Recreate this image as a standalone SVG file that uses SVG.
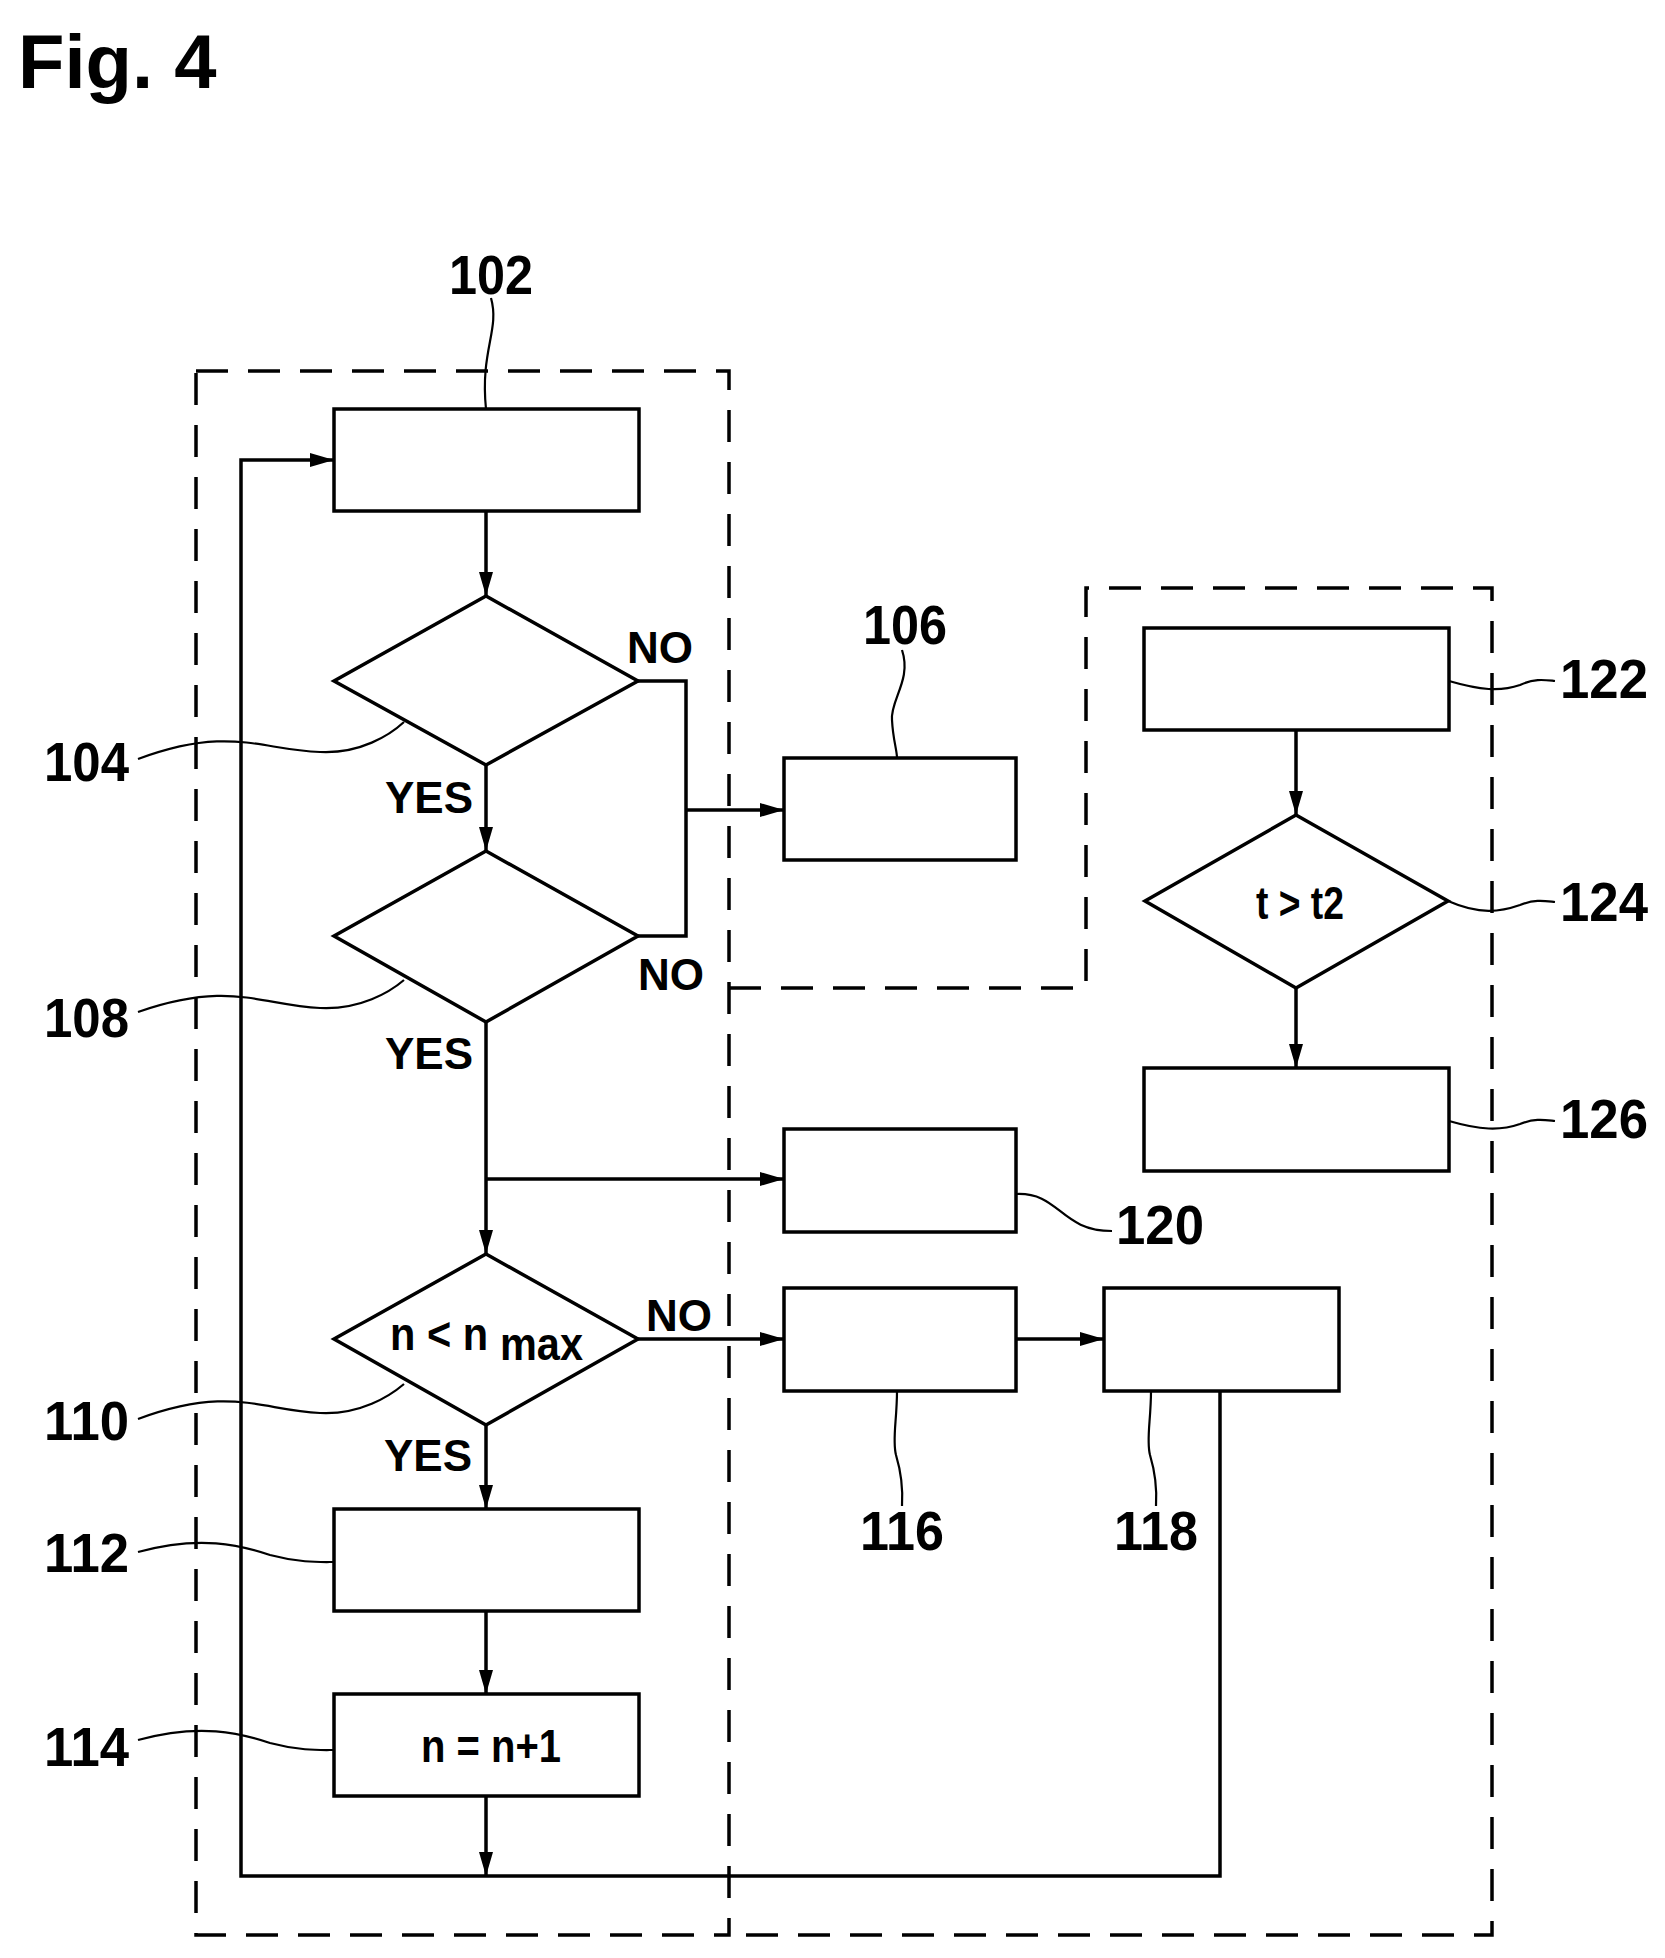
<svg xmlns="http://www.w3.org/2000/svg" width="1665" height="1958" viewBox="0 0 1665 1958">
<style>
.s{fill:none;stroke:#000;stroke-width:3.5}
.d{fill:none;stroke:#000;stroke-width:3.5;stroke-dasharray:32 20}
.l{fill:none;stroke:#000;stroke-width:2.2}
.t{font-family:"Liberation Sans",Arial,sans-serif;font-weight:bold;fill:#000}
.n{font-size:56px}
.y{font-size:44px;text-anchor:middle}
</style>
<defs>
<marker id="a" markerWidth="24" markerHeight="14" refX="24" refY="7" orient="auto" markerUnits="userSpaceOnUse">
<path d="M0,0 L24,7 L0,14 Z" fill="#000"/>
</marker>
</defs>
<rect width="1665" height="1958" fill="#fff"/>
<text class="t" x="18" y="88" font-size="76">Fig. 4</text>
<g id="frames">
<rect class="d" x="196" y="371" width="533" height="1564"/>
<path class="d" d="M729,988 H1086 V588 H1492 V1935 H729"/>
</g>
<g id="n102"><rect class="s" x="334" y="409" width="305" height="102"/>
<text class="t n" x="491" y="294" text-anchor="middle" textLength="84" lengthAdjust="spacingAndGlyphs">102</text>
<path class="l" d="M491,298 C500,330 480,350 486,409"/></g>
<g id="n104"><path class="s" d="M486,596 L638,681 L486,765 L334,681 Z"/>
<text class="t n" x="44" y="781" textLength="85" lengthAdjust="spacingAndGlyphs">104</text>
<path class="l" d="M138,759 C230,725 260,750 320,752 C360,754 390,735 404,722"/></g>
<g id="n106"><rect class="s" x="784" y="758" width="232" height="102"/>
<text class="t n" x="905" y="644" text-anchor="middle" textLength="84" lengthAdjust="spacingAndGlyphs">106</text>
<path class="l" d="M902,650 C912,680 890,700 892,720 C893,740 897,750 897,758"/></g>
<g id="n108"><path class="s" d="M486,851 L638,936 L486,1022 L334,936 Z"/>
<text class="t n" x="44" y="1037" textLength="85" lengthAdjust="spacingAndGlyphs">108</text>
<path class="l" d="M138,1012 C230,980 260,1005 320,1008 C360,1010 390,992 404,980"/></g>
<g id="n110"><path class="s" d="M486,1254 L638,1339 L486,1425 L334,1339 Z"/>
<text class="t" x="390" y="1350" font-size="46" textLength="98" lengthAdjust="spacingAndGlyphs">n &lt; n</text>
<text class="t" x="500" y="1360" font-size="46" textLength="83" lengthAdjust="spacingAndGlyphs">max</text>
<text class="t n" x="44" y="1440" textLength="85" lengthAdjust="spacingAndGlyphs">110</text>
<path class="l" d="M138,1419 C230,1385 260,1410 320,1413 C360,1415 390,1396 404,1384"/></g>
<g id="n112"><rect class="s" x="334" y="1509" width="305" height="102"/>
<text class="t n" x="44" y="1572" textLength="85" lengthAdjust="spacingAndGlyphs">112</text>
<path class="l" d="M138,1552 C200,1535 240,1545 270,1555 C300,1563 320,1562 334,1562"/></g>
<g id="n114"><rect class="s" x="334" y="1694" width="305" height="102"/>
<text class="t" x="491" y="1762" font-size="46" text-anchor="middle" textLength="140" lengthAdjust="spacingAndGlyphs">n = n+1</text>
<text class="t n" x="44" y="1766" textLength="85" lengthAdjust="spacingAndGlyphs">114</text>
<path class="l" d="M138,1740 C200,1723 240,1733 270,1743 C300,1751 320,1750 334,1750"/></g>
<g id="n116"><rect class="s" x="784" y="1288" width="232" height="103"/>
<text class="t n" x="902" y="1550" text-anchor="middle" textLength="84" lengthAdjust="spacingAndGlyphs">116</text>
<path class="l" d="M897,1391 C897,1420 892,1440 896,1455 C902,1475 903,1490 902,1506"/></g>
<g id="n118"><rect class="s" x="1104" y="1288" width="235" height="103"/>
<text class="t n" x="1156" y="1550" text-anchor="middle" textLength="84" lengthAdjust="spacingAndGlyphs">118</text>
<path class="l" d="M1151,1391 C1151,1420 1146,1440 1150,1455 C1156,1475 1157,1490 1156,1506"/></g>
<g id="n120"><rect class="s" x="784" y="1129" width="232" height="103"/>
<text class="t n" x="1116" y="1244" textLength="88" lengthAdjust="spacingAndGlyphs">120</text>
<path class="l" d="M1016,1194 C1060,1192 1060,1231 1112,1231"/></g>
<g id="n122"><rect class="s" x="1144" y="628" width="305" height="102"/>
<text class="t n" x="1560" y="698" textLength="88" lengthAdjust="spacingAndGlyphs">122</text>
<path class="l" d="M1449,681 C1480,690 1500,692 1520,685 C1535,678 1545,680 1555,681"/></g>
<g id="n124"><path class="s" d="M1296,815 L1448,901 L1296,988 L1145,901 Z"/>
<text class="t" x="1300" y="919" font-size="46" text-anchor="middle" textLength="88" lengthAdjust="spacingAndGlyphs">t &gt; t2</text>
<text class="t n" x="1560" y="921" textLength="88" lengthAdjust="spacingAndGlyphs">124</text>
<path class="l" d="M1448,901 C1480,915 1500,912 1520,905 C1535,899 1545,901 1555,902"/></g>
<g id="n126"><rect class="s" x="1144" y="1068" width="305" height="103"/>
<text class="t n" x="1560" y="1138" textLength="88" lengthAdjust="spacingAndGlyphs">126</text>
<path class="l" d="M1449,1121 C1480,1130 1500,1131 1520,1124 C1535,1118 1545,1120 1555,1121"/></g>
<g id="connectors">
<path class="s" d="M486,511 V596" marker-end="url(#a)"/>
<path class="s" d="M486,765 V851" marker-end="url(#a)"/>
<path class="s" d="M486,1022 V1254" marker-end="url(#a)"/>
<path class="s" d="M486,1179 H784" marker-end="url(#a)"/>
<path class="s" d="M486,1425 V1509" marker-end="url(#a)"/>
<path class="s" d="M486,1611 V1694" marker-end="url(#a)"/>
<path class="s" d="M486,1796 V1876" marker-end="url(#a)"/>
<path class="s" d="M638,681 H686 V936 H638"/>
<path class="s" d="M686,810 H784" marker-end="url(#a)"/>
<path class="s" d="M638,1339 H784" marker-end="url(#a)"/>
<path class="s" d="M1016,1339 H1104" marker-end="url(#a)"/>
<path class="s" d="M1220,1391 V1876 H241 V460 H334" marker-end="url(#a)"/>
<path class="s" d="M1296,730 V815" marker-end="url(#a)"/>
<path class="s" d="M1296,988 V1068" marker-end="url(#a)"/>
<text class="t y" x="660" y="663">NO</text>
<text class="t y" x="429" y="813">YES</text>
<text class="t y" x="671" y="990">NO</text>
<text class="t y" x="429" y="1069">YES</text>
<text class="t y" x="679" y="1331">NO</text>
<text class="t y" x="428" y="1471">YES</text>
</g>
</svg>
